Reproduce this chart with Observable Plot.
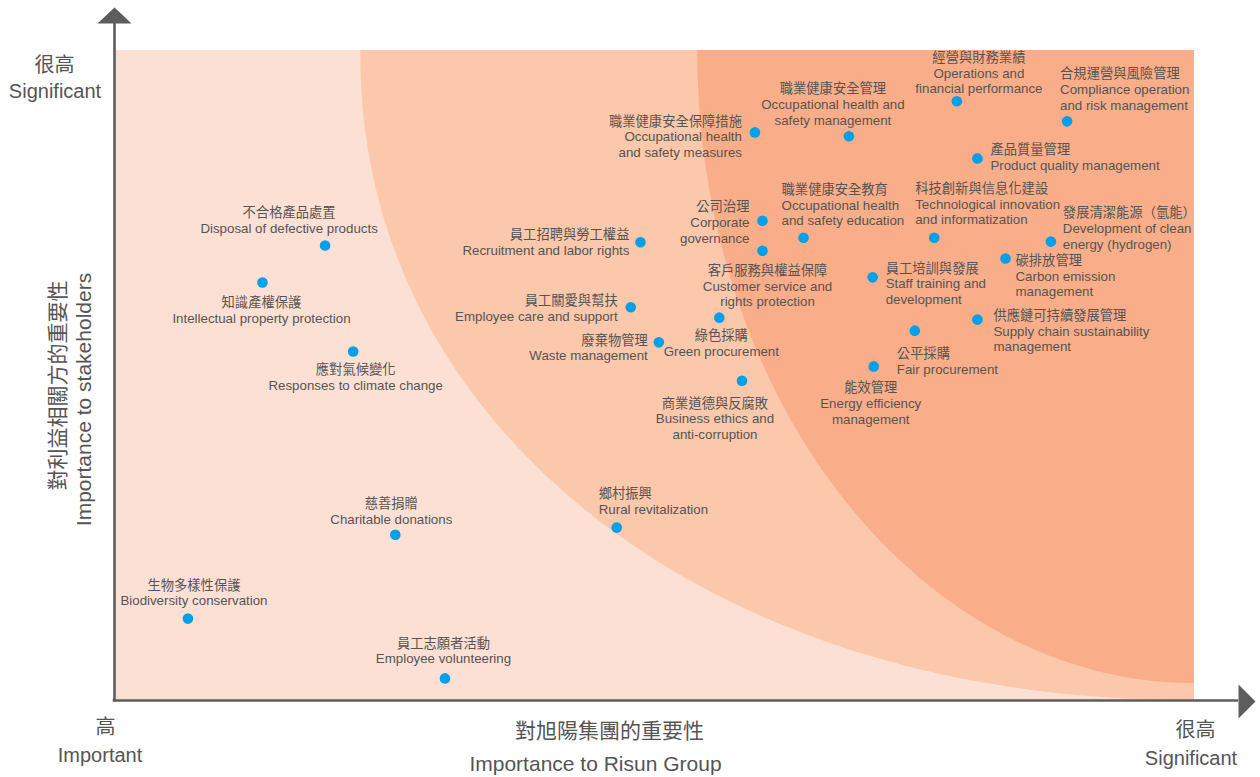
<!DOCTYPE html>
<html>
<head>
<meta charset="utf-8">
<script src="https://cdn.jsdelivr.net/npm/d3@7"></script>
<script src="https://cdn.jsdelivr.net/npm/@observablehq/plot@0.6"></script>
<style>
  html, body { margin: 0; padding: 0; background: #ffffff; }
  #chart svg { display: block; }
</style>
</head>
<body>
<div id="chart"></div>
<script>
// ---------- data ----------
const topicsZh = [
  "不合格產品處置", "知識產權保護", "應對氣候變化", "慈善捐贈", "生物多樣性保護",
  "員工志願者活動", "鄉村振興", "員工招聘與勞工權益", "員工關愛與幫扶", "廢棄物管理",
  "綠色採購", "商業道德與反腐敗", "職業健康安全保障措施", "職業健康安全管理", "經營與財務業績",
  "合規運營與風險管理", "產品質量管理", "公司治理", "客戶服務與權益保障", "職業健康安全教育",
  "科技創新與信息化建設", "發展清潔能源（氫能）", "碳排放管理", "員工培訓與發展", "供應鏈可持續發展管理",
  "公平採購", "能效管理"
];
const topicsEn = [
  "Disposal of defective products", "Intellectual property protection", "Responses to climate change",
  "Charitable donations", "Biodiversity conservation", "Employee volunteering", "Rural revitalization",
  "Recruitment and labor rights", "Employee care and support", "Waste management", "Green procurement",
  "Business ethics and\nanti-corruption", "Occupational health\nand safety measures",
  "Occupational health and\nsafety management", "Operations and\nfinancial performance",
  "Compliance operation\nand risk management", "Product quality management", "Corporate\ngovernance",
  "Customer service and\nrights protection", "Occupational health\nand safety education",
  "Technological innovation\nand informatization", "Development of clean\nenergy (hydrogen)",
  "Carbon emission\nmanagement", "Staff training and\ndevelopment", "Supply chain sustainability\nmanagement",
  "Fair procurement", "Energy efficiency\nmanagement"
];
// x: importance to Risun Group, y: importance to stakeholders (0–10 scale)
const importanceToGroup = [
  1.95, 1.37, 2.21, 2.60, 0.68, 3.06, 4.65, 4.87, 4.78, 5.04,
  5.60, 5.81, 5.93, 6.80, 7.80, 8.82, 7.99, 6.00, 6.00, 6.38,
  7.59, 8.67, 8.25, 7.02, 7.99, 7.41, 7.03
];
const importanceToStakeholders = [
  7.00, 6.43, 5.37, 2.55, 1.26, 0.34, 2.66, 7.05, 6.05, 5.51,
  5.89, 4.92, 8.74, 8.68, 9.22, 8.91, 8.34, 7.38, 6.92, 7.12,
  7.12, 7.06, 6.80, 6.51, 5.86, 5.69, 5.14
];

// axis texts
const yAxisTitle = ["對利益相關方的重要性", "Importance to stakeholders"];
const xAxisTitle = ["對旭陽集團的重要性", "Importance to Risun Group"];
const yHighLabel = ["很高", "Significant"];
const xLowLabel = ["高", "Important"];
const xHighLabel = ["很高", "Significant"];

// background zones (light → dark); boundaries are quarter super-ellipses anchored at the top-right corner
const zoneColors = ["#fde0d4", "#fbc8ac", "#f9ae89"];
const zoneRadiusX = [7.72, 4.6];   // reach along the top edge (domain units, from the right)
const zoneRadiusY = [10.0, 9.74];  // reach along the right edge (domain units, from the top)
const zoneExponent = [2.1, 2.0];

// ---------- layout (label placement relative to each dot) ----------
// [textAnchor, dx, dy]
const labelLayout = [
  ["middle", -36, -25.5], ["middle", -1, 27.7], ["middle", 2.5, 25.3], ["middle", -4, -24], ["middle", 6, -26],
  ["middle", -1.5, -28], ["start", -18, -26.5], ["end", -11, 0], ["end", -13, 1], ["end", -11, 5],
  ["middle", 2, 25], ["middle", -27, 37.5], ["end", -13, 4], ["middle", -16, -32.5], ["middle", 22, -28.5],
  ["start", -7, -32.5], ["start", 13, -1.5], ["end", -13, 1], ["middle", 5, 35], ["start", -22, -33],
  ["start", -19, -34], ["start", 12, -13.5], ["start", 10, 17], ["start", 13, 6], ["start", 16, 11],
  ["start", -18, 30], ["middle", -3, 36.5]
];

const textColor = "#555555";
const axisColor = "#5d5d5d";
const dotColor = "#00a0e9";
const fontFamily = "'Liberation Sans', Arial, 'Noto Sans CJK TC', sans-serif";

const topics = topicsZh.map((zh, i) => ({
  zh, en: topicsEn[i], x: importanceToGroup[i], y: importanceToStakeholders[i]
}));

function zoneOutline(k) {
  const a = zoneRadiusX[k], b = zoneRadiusY[k], n = zoneExponent[k];
  return d3.range(0, 181).map(j => {
    const t = (j / 180) * Math.PI / 2;
    return {x: 10 - a * Math.pow(Math.cos(t), 2 / n), y: 10 - b * Math.pow(Math.sin(t), 2 / n)};
  });
}

const arrowUp = {draw(ctx) { ctx.moveTo(0, -8); ctx.lineTo(17, 8); ctx.lineTo(-17, 8); ctx.closePath(); }};
const arrowRight = {draw(ctx) { ctx.moveTo(8.5, 0); ctx.lineTo(-8.5, 17); ctx.lineTo(-8.5, -17); ctx.closePath(); }};

const labelMarks = topics.map((d, i) => {
  const [anchor, dx, dy] = labelLayout[i];
  return Plot.text([d], {
    x: "x", y: "y", text: t => t.zh + "\n" + t.en,
    textAnchor: anchor, lineAnchor: "middle", dx, dy,
    fontSize: 13.3, lineHeight: 1.18, fill: textColor
  });
});

const axisText = (label, frameAnchor, dx, dy, fontSize, rotate = 0) =>
  Plot.text([label], {
    frameAnchor, text: d => d, dx, dy, fontSize, rotate,
    fill: textColor, textAnchor: "middle", lineAnchor: "middle"
  });

const plot = Plot.plot({
  width: 1260,
  height: 777,
  marginLeft: 114,
  marginRight: 66,
  marginTop: 50,
  marginBottom: 77,
  x: {domain: [0, 10], axis: null},
  y: {domain: [0, 10], axis: null},
  style: {fontFamily, background: "#ffffff", overflow: "visible"},
  marks: [
    Plot.rect([{x1: 0, x2: 10, y1: 0, y2: 10}], {x1: "x1", x2: "x2", y1: "y1", y2: "y2", fill: zoneColors[0]}),
    Plot.areaY(zoneOutline(0), {x: "x", y1: "y", y2: 10, fill: zoneColors[1], curve: "linear"}),
    Plot.areaY(zoneOutline(1), {x: "x", y1: "y", y2: 10, fill: zoneColors[2], curve: "linear"}),

    // axes with arrow heads
    Plot.ruleX([0], {x: d => d, stroke: axisColor, strokeWidth: 2.6, insetTop: -28, insetBottom: -1.3}),
    Plot.ruleY([0], {y: d => d, stroke: axisColor, strokeWidth: 2.6, insetRight: -44, insetLeft: -1.3}),
    Plot.dot([{x: 0, y: 10}], {x: "x", y: "y", dy: -35, symbol: arrowUp, r: 10, fill: axisColor, stroke: null}),
    Plot.dot([{x: 10, y: 0}], {x: "x", y: "y", dx: 52.5, dy: 1, symbol: arrowRight, r: 10, fill: axisColor, stroke: null}),

    // axis end labels
    axisText(yHighLabel[0], "top-left", -60, 15, 20),
    axisText(yHighLabel[1], "top-left", -59.5, 41, 20),
    axisText(xLowLabel[0], "bottom-left", -9, 27, 20),
    axisText(xLowLabel[1], "bottom-left", -14.5, 55, 20),
    axisText(xHighLabel[0], "bottom-right", 1, 30, 20),
    axisText(xHighLabel[1], "bottom-right", -3.5, 58, 20),

    // axis titles
    axisText(xAxisTitle[0], "bottom", -45, 31, 21),
    axisText(xAxisTitle[1], "bottom", -59, 64, 21),
    axisText(yAxisTitle[0], "left", -56, 10, 21, -90),
    axisText(yAxisTitle[1], "left", -30, 24, 21, -90),

    // topics
    Plot.dot(topics, {x: "x", y: "y", r: 5.3, fill: dotColor, stroke: null}),
    ...labelMarks
  ]
});

document.getElementById("chart").appendChild(plot);
</script>
</body>
</html>
